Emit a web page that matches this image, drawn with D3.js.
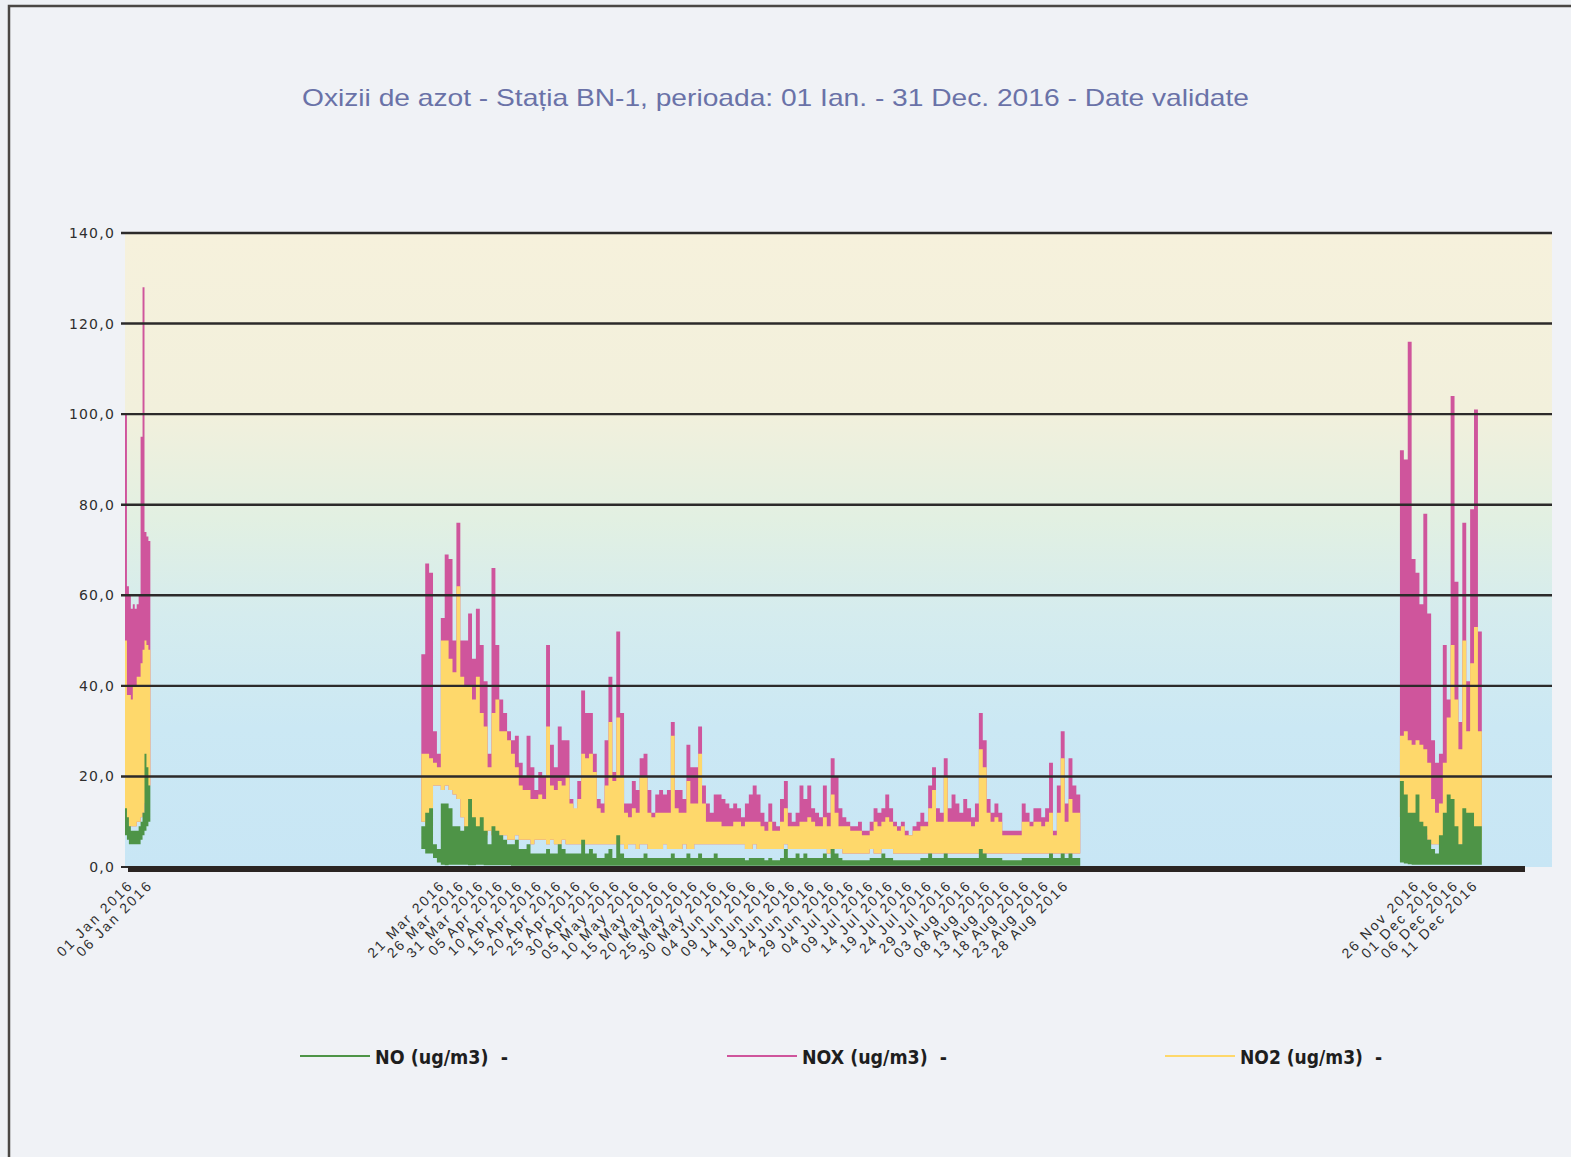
<!DOCTYPE html>
<html>
<head>
<meta charset="utf-8">
<script src="https://cdn.jsdelivr.net/npm/d3@7"></script>
<style>
  html, body { margin: 0; padding: 0; background: #eef1f5; }
  svg { display: block; }
</style>
</head>
<body>
<svg id="chart" width="1571" height="1157"></svg>
<script>
// ---- data (ug/m3) ----
const titleText = 'Oxizii de azot - Stația BN-1, perioada: 01 Ian. - 31 Dec. 2016 - Date validate';
const yTicks = [0, 20, 40, 60, 80, 100, 120, 140];
const legendLabels = ['NO (ug/m3)  -', 'NOX (ug/m3)  -', 'NO2 (ug/m3)  -'];
const monthNames = ['Jan', 'Feb', 'Mar', 'Apr', 'May', 'Jun', 'Jul', 'Aug', 'Sep', 'Oct', 'Nov', 'Dec'];

// measurement periods (start, step in hours)
const periodStarts = ['2016-01-01T00:00:00', '2016-03-17T00:00:00', '2016-11-23T00:00:00'];
const periodStepHours = [12, 24, 24];

// 01 Jan - 07 Jan, half-day max / min
const janNoxHi = [100, 62, 60, 57, 58, 57, 58, 60, 95, 128, 74, 73, 72];
const janNo2Hi = [50, 38, 38, 37, 40, 40, 42, 42, 45, 48, 50, 49, 48];
const janNo2Lo = [12, 10, 9, 9, 9, 9, 10, 10, 11, 12, 14, 16, 18];
const janNoHi = [13, 11, 9, 8, 8, 8, 8, 9, 10, 12, 25, 22, 18];
const janNoLo = [7, 6, 5, 5, 5, 5, 5, 5, 6, 7, 8, 9, 10];

// 17 Mar - 01 Sep, daily max / min
const sumNoxHi = [
  47, 67, 65, 30, 25, 55, 69, 68, 50, 76,
  50, 50, 56, 46, 57, 49, 41, 25, 66, 49,
  37, 34, 30, 28, 29, 23, 20, 29, 22, 17,
  21, 20, 49, 27, 22, 31, 28, 28, 15, 11,
  19, 39, 34, 34, 25, 15, 14, 28, 42, 21,
  52, 34, 14, 14, 19, 17, 24, 25, 17, 12,
  16, 17, 16, 17, 32, 17, 17, 15, 27, 22,
  22, 31, 18, 14, 12, 16, 16, 15, 14, 13,
  14, 13, 11, 14, 16, 18, 16, 12, 10, 14,
  10, 9, 15, 19, 12, 10, 12, 18, 15, 18,
  13, 12, 11, 18, 12, 24, 20, 13, 11, 10,
  9, 9, 10, 8, 8, 10, 13, 12, 13, 16,
  13, 10, 9, 10, 8, 7, 9, 10, 12, 10,
  18, 22, 13, 12, 24, 13, 16, 14, 12, 15,
  13, 11, 14, 34, 28, 15, 12, 14, 12, 8,
  8, 8, 8, 8, 14, 12, 10, 13, 13, 11,
  13, 23, 8, 18, 30, 14, 24, 18, 16
];
const sumNo2Hi = [
  25, 25, 24, 23, 22, 50, 50, 46, 43, 62,
  42, 40, 40, 37, 42, 34, 31, 22, 34, 37,
  30, 30, 28, 25, 22, 18, 17, 17, 15, 15,
  16, 15, 31, 18, 17, 19, 18, 20, 14, 13,
  15, 25, 24, 25, 21, 13, 12, 18, 32, 19,
  33, 20, 12, 11, 13, 12, 20, 20, 12, 11,
  12, 12, 12, 12, 29, 13, 12, 12, 19, 14,
  14, 25, 14, 10, 10, 10, 10, 9, 9, 9,
  10, 10, 9, 10, 10, 10, 10, 9, 8, 10,
  8, 8, 10, 13, 9, 9, 9, 10, 10, 11,
  10, 9, 9, 11, 9, 16, 12, 9, 9, 9,
  8, 8, 8, 7, 7, 8, 10, 9, 10, 11,
  10, 9, 8, 9, 7, 7, 8, 8, 9, 9,
  13, 17, 10, 10, 20, 10, 10, 10, 10, 10,
  10, 9, 10, 26, 22, 12, 10, 11, 10, 7,
  7, 7, 7, 7, 10, 10, 9, 10, 10, 9,
  10, 12, 7, 12, 24, 10, 15, 12, 12
];
const sumNo2Lo = [
  10, 9, 9, 18, 18, 17, 18, 17, 16, 15,
  11, 8, 8, 8, 8, 7, 7, 8, 7, 7,
  7, 7, 6, 6, 7, 6, 6, 6, 5, 6,
  6, 6, 5, 6, 5, 5, 6, 5, 5, 5,
  5, 5, 5, 5, 5, 5, 5, 5, 5, 5,
  5, 5, 4, 5, 5, 4, 5, 5, 4, 4,
  4, 4, 5, 4, 4, 4, 4, 5, 4, 4,
  5, 5, 5, 5, 5, 5, 5, 5, 5, 5,
  5, 5, 5, 4, 4, 5, 4, 4, 4, 4,
  4, 4, 4, 5, 4, 4, 4, 4, 4, 4,
  4, 4, 4, 4, 3, 4, 4, 4, 3, 3,
  3, 3, 3, 3, 3, 4, 3, 3, 4, 4,
  4, 3, 3, 3, 3, 3, 3, 3, 3, 3,
  3, 3, 3, 3, 3, 3, 3, 3, 3, 3,
  3, 3, 3, 3, 3, 3, 3, 3, 3, 3,
  3, 3, 3, 3, 3, 3, 3, 3, 3, 3,
  3, 3, 3, 3, 3, 3, 3, 3, 3
];
const sumNoHi = [
  9, 12, 13, 5, 4, 14, 14, 13, 9, 9,
  8, 9, 15, 11, 9, 11, 8, 5, 9, 8,
  7, 6, 5, 5, 6, 4, 4, 5, 3, 3,
  3, 3, 4, 3, 3, 5, 4, 3, 3, 3,
  3, 6, 3, 4, 3, 2, 2, 3, 4, 2,
  7, 3, 2, 2, 2, 2, 2, 3, 2, 2,
  2, 2, 2, 2, 3, 2, 2, 2, 3, 2,
  2, 3, 2, 2, 2, 3, 2, 2, 2, 2,
  2, 2, 2, 1.5, 2, 2, 2, 2, 1.5, 2,
  1.5, 1.5, 2, 4, 2, 2, 3, 2, 3, 2,
  2, 2, 2, 3, 2, 4, 3, 2, 1.5, 1.5,
  1.5, 1.5, 1.5, 1.5, 1.5, 2, 2, 2, 3, 2,
  2, 1.5, 1.5, 1.5, 1.5, 1.5, 1.5, 1.5, 2, 2,
  3, 2, 2, 2, 3, 2, 2, 2, 2, 2,
  2, 2, 2, 4, 3, 2, 2, 2, 2, 1.5,
  1.5, 1.5, 1.5, 1.5, 2, 2, 2, 2, 2, 2,
  2, 3, 2, 2, 3, 2, 3, 2, 2
];
const sumNoLo = [
  4, 3, 3, 2, 1, 0.5, 0.4, 0.5, 0.5, 0.5,
  0.5, 0.5, 0.4, 0.4, 0.5, 0.5, 0.4, 0.4, 0.4, 0.4,
  0.4, 0.4, 0.4, 0.3, 0.3, 0.3, 0.3, 0.3, 0.3, 0.3,
  0.3, 0.3, 0.3, 0.3, 0.3, 0.3, 0.3, 0.3, 0.3, 0.3,
  0.3, 0.3, 0.3, 0.3, 0.3, 0.3, 0.3, 0.3, 0.3, 0.3,
  0.3, 0.3, 0.3, 0.3, 0.3, 0.3, 0.3, 0.3, 0.3, 0.3,
  0.3, 0.3, 0.3, 0.3, 0.3, 0.3, 0.3, 0.3, 0.3, 0.3,
  0.3, 0.3, 0.3, 0.3, 0.3, 0.3, 0.3, 0.3, 0.3, 0.3,
  0.3, 0.3, 0.3, 0.3, 0.3, 0.3, 0.3, 0.3, 0.3, 0.3,
  0.3, 0.3, 0.3, 0.3, 0.3, 0.3, 0.3, 0.3, 0.3, 0.3,
  0.3, 0.3, 0.3, 0.3, 0.3, 0.3, 0.3, 0.3, 0.3, 0.3,
  0.3, 0.3, 0.3, 0.3, 0.3, 0.3, 0.3, 0.3, 0.3, 0.3,
  0.3, 0.3, 0.3, 0.3, 0.3, 0.3, 0.3, 0.3, 0.3, 0.3,
  0.3, 0.3, 0.3, 0.3, 0.3, 0.3, 0.3, 0.3, 0.3, 0.3,
  0.3, 0.3, 0.3, 0.3, 0.3, 0.3, 0.3, 0.3, 0.3, 0.3,
  0.3, 0.3, 0.3, 0.3, 0.3, 0.3, 0.3, 0.3, 0.3, 0.3,
  0.3, 0.3, 0.3, 0.3, 0.3, 0.3, 0.3, 0.3, 0.3
];

// 23 Nov - 13 Dec, daily max / min
const decNoxHi = [92, 90, 116, 68, 65, 58, 78, 56, 28, 23, 25, 49, 37, 104, 63, 32, 76, 41, 79, 101, 52];
const decNo2Hi = [29, 30, 28, 27, 28, 27, 26, 23, 15, 12, 14, 23, 33, 49, 37, 26, 50, 30, 45, 53, 30];
const decNo2Lo = [11, 8, 7, 7, 8, 7, 7, 6, 5, 5, 5, 6, 6, 5, 5, 5, 5, 5, 6, 5, 6];
const decNoHi = [19, 16, 12, 12, 16, 10, 9, 6, 4, 3, 7, 12, 16, 15, 9, 5, 13, 12, 12, 9, 9];
const decNoLo = [1, 0.8, 0.6, 0.5, 0.5, 0.5, 0.5, 0.5, 0.5, 0.5, 0.5, 0.5, 0.5, 0.5, 0.5, 0.5, 0.5, 0.5, 0.5, 0.5, 0.5];

// ---- layout ----
const W = 1571, H = 1157;
const plot = { left: 125, right: 1552, top: 233, bottom: 867 };
const colors = { no: '#4e9447', nox: '#cf559c', no2: '#fed86b', grid: '#2c2a2a', text: '#2e2e2e', title: '#6a72a8' };

const svg = d3.select('#chart');

const x = d3.scaleTime()
    .domain([new Date(2016, 0, 1), new Date(2017, 0, 1)])
    .range([plot.left, plot.right]);

const y = d3.scaleLinear()
    .domain([0, 140])
    .range([plot.bottom, plot.top]);

// outer frame (cut by the page edges)
svg.append('rect')
    .attr('x', 9).attr('y', 6)
    .attr('width', W + 20).attr('height', H + 20)
    .attr('fill', '#f0f2f6')
    .attr('stroke', '#4a4744')
    .attr('stroke-width', 2.5);

// title
svg.append('text')
    .attr('x', 302).attr('y', 106)
    .attr('textLength', 947)
    .attr('lengthAdjust', 'spacingAndGlyphs')
    .attr('font-family', 'Arial, "Liberation Sans", sans-serif')
    .attr('font-size', 24)
    .attr('fill', colors.title)
    .text(titleText);

// plot background
const defs = svg.append('defs');
const grad = defs.append('linearGradient')
    .attr('id', 'bg').attr('x1', 0).attr('y1', 0).attr('x2', 0).attr('y2', 1);
[['0%', '#f6f1dc'], ['28%', '#f2f0dc'], ['45%', '#e2f0e2'], ['60%', '#d5ecee'], ['78%', '#cbe8f4'], ['100%', '#c8e6f5']]
    .forEach(s => grad.append('stop').attr('offset', s[0]).attr('stop-color', s[1]));

svg.append('rect')
    .attr('x', plot.left).attr('y', plot.top)
    .attr('width', plot.right - plot.left).attr('height', plot.bottom - plot.top)
    .attr('fill', 'url(#bg)');

// data series
function buildPoints(start, stepH, hi, lo) {
    const t0 = new Date(start);
    const pts = hi.map((v, i) => ({ t: d3.timeHour.offset(t0, i * stepH), hi: v, lo: lo[i] }));
    pts.push({ t: d3.timeHour.offset(t0, hi.length * stepH), hi: hi[hi.length - 1], lo: lo[lo.length - 1] });
    return pts;
}

const periods = [
    { nox: janNoxHi, no2: janNo2Hi, no2Lo: janNo2Lo, no: janNoHi, noLo: janNoLo },
    { nox: sumNoxHi, no2: sumNo2Hi, no2Lo: sumNo2Lo, no: sumNoHi, noLo: sumNoLo },
    { nox: decNoxHi, no2: decNo2Hi, no2Lo: decNo2Lo, no: decNoHi, noLo: decNoLo }
];

const area = d3.area()
    .x(d => x(d.t))
    .y0(d => y(d.lo))
    .y1(d => y(d.hi))
    .curve(d3.curveStepAfter);

const dataLayer = svg.append('g').attr('class', 'series');

periods.forEach((p, i) => {
    const start = periodStarts[i], step = periodStepHours[i];
    dataLayer.append('path')
        .datum(buildPoints(start, step, p.nox, p.no2Lo))
        .attr('d', area)
        .attr('fill', colors.nox);
    dataLayer.append('path')
        .datum(buildPoints(start, step, p.no2, p.no2Lo))
        .attr('d', area)
        .attr('fill', colors.no2);
    dataLayer.append('path')
        .datum(buildPoints(start, step, p.no, p.noLo))
        .attr('d', area)
        .attr('fill', colors.no);
});

// grid lines + y labels
const gridLayer = svg.append('g');
gridLayer.selectAll('line.grid')
    .data(yTicks.filter(v => v > 0))
    .join('line')
    .attr('class', 'grid')
    .attr('x1', 121).attr('x2', plot.right)
    .attr('y1', d => y(d)).attr('y2', d => y(d))
    .attr('stroke', colors.grid)
    .attr('stroke-width', 2.4);

gridLayer.append('line')
    .attr('x1', 121).attr('x2', 128)
    .attr('y1', y(0)).attr('y2', y(0))
    .attr('stroke', colors.grid).attr('stroke-width', 2);

gridLayer.append('line')
    .attr('x1', 128).attr('x2', 1525)
    .attr('y1', y(0) + 2).attr('y2', y(0) + 2)
    .attr('stroke', '#2a2422').attr('stroke-width', 6);

gridLayer.selectAll('text.ylab')
    .data(yTicks)
    .join('text')
    .attr('class', 'ylab')
    .attr('x', 115)
    .attr('y', d => y(d) + 5)
    .attr('text-anchor', 'end')
    .attr('font-family', '"DejaVu Sans", Verdana, sans-serif')
    .attr('font-size', 14)
    .attr('letter-spacing', 1.2)
    .attr('fill', colors.text)
    .text(d => d3.format('.1f')(d).replace('.', ','));

// x labels: every 5 days from 1 Jan, only where data exists
const spans = periodStarts.map((s, i) => {
    const t0 = new Date(s);
    return [t0, d3.timeHour.offset(t0, periods[i].nox.length * periodStepHours[i])];
});
const tickDates = d3.timeDay.range(new Date(2016, 0, 1), new Date(2017, 0, 1), 5)
    .filter(t => spans.some(s => t >= s[0] && t < s[1]));

const fmt = t => d3.timeFormat('%d')(t) + ' ' + monthNames[t.getMonth()] + ' ' + t.getFullYear();

svg.append('g').selectAll('text')
    .data(tickDates)
    .join('text')
    .attr('transform', d => 'translate(' + (x(d) + 9) + ',' + 886 + ') rotate(-45)')
    .attr('text-anchor', 'end')
    .attr('font-family', 'Arial, "Liberation Sans", sans-serif')
    .attr('font-size', 14)
    .attr('letter-spacing', 2.2)
    .attr('fill', colors.text)
    .text(fmt);

// legend
const legendX = [300, 727, 1165];
const legendTextW = [133, 145, 142];
const legendColors = [colors.no, colors.nox, colors.no2];
const legend = svg.append('g');
legendLabels.forEach((lab, i) => {
    legend.append('line')
        .attr('x1', legendX[i]).attr('x2', legendX[i] + 70)
        .attr('y1', 1056).attr('y2', 1056)
        .attr('stroke', legendColors[i])
        .attr('stroke-width', 2);
    legend.append('text')
        .attr('x', legendX[i] + 75).attr('y', 1064)
        .attr('textLength', legendTextW[i])
        .attr('lengthAdjust', 'spacingAndGlyphs')
        .attr('font-family', '"DejaVu Sans Condensed", "Liberation Sans Narrow", sans-serif')
        .attr('font-weight', 'bold')
        .attr('font-size', 20)
        .attr('fill', '#1e1e1e')
        .style('white-space', 'pre')
        .text(lab);
});
</script>
</body>
</html>
